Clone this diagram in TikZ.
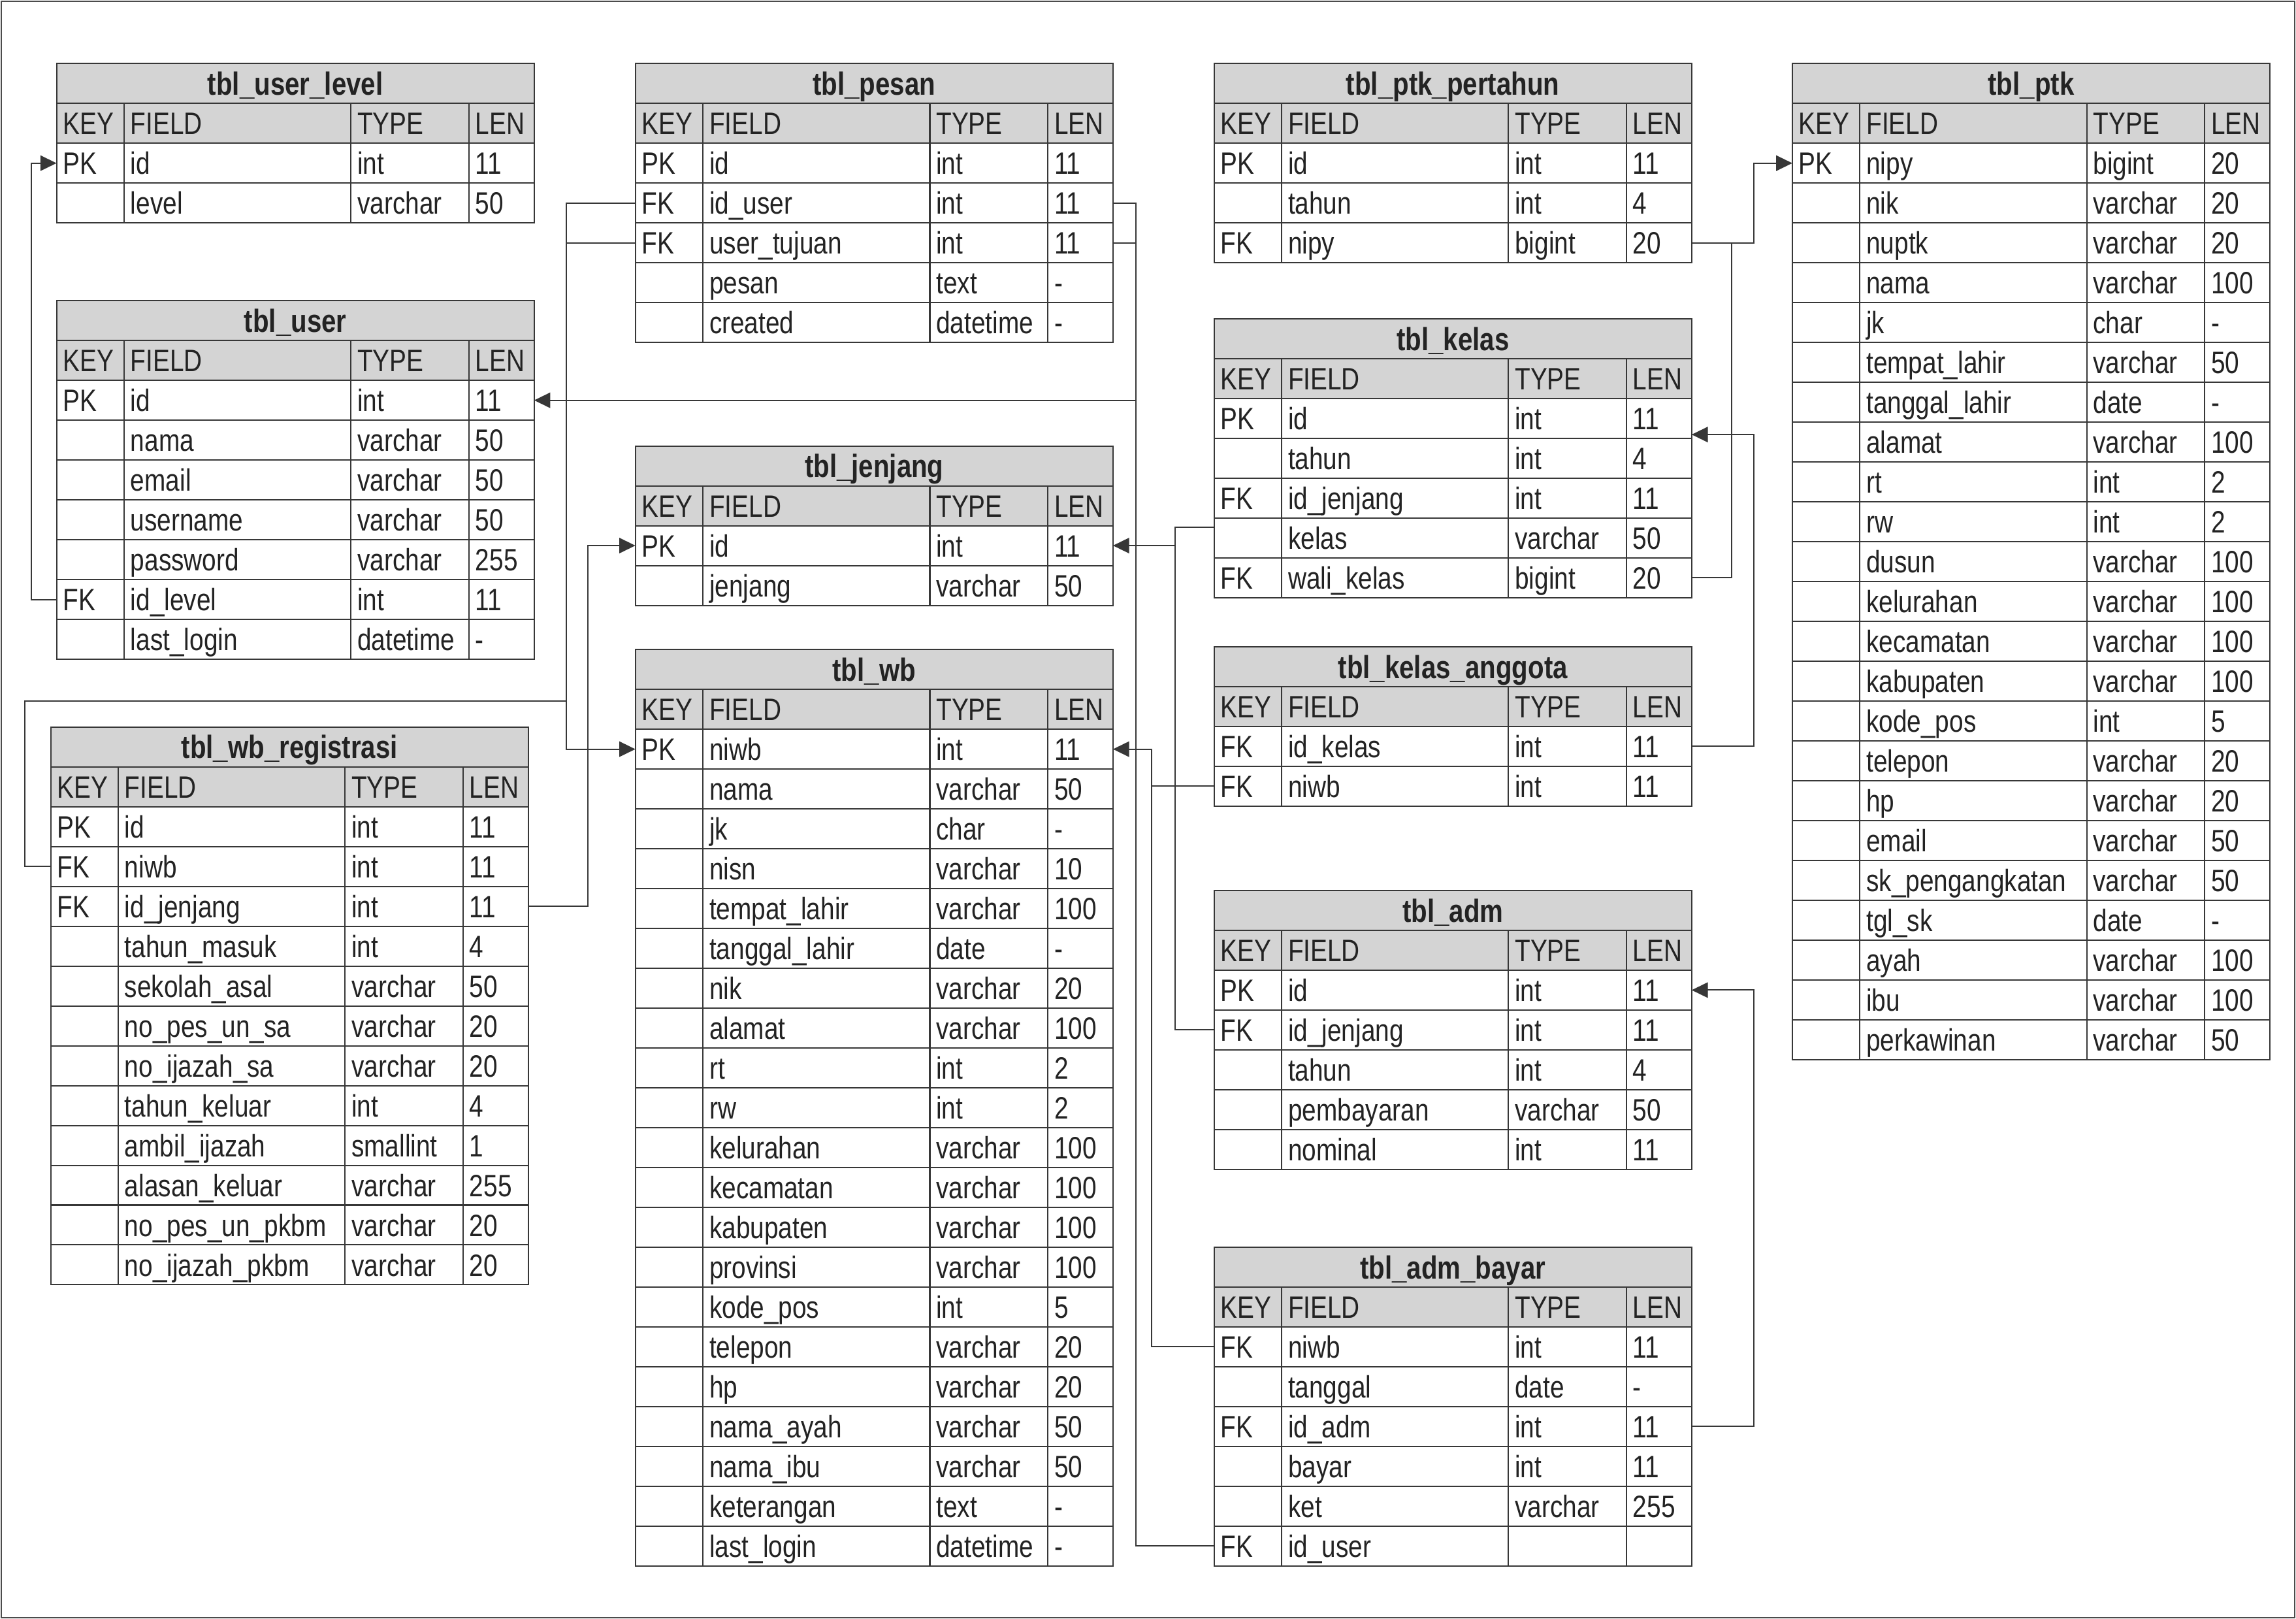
\documentclass[tikz,border=0pt]{standalone}
\usepackage{fontspec}
\setmainfont{Liberation Sans}[FakeStretch=0.82]
\usetikzlibrary{arrows.meta,calc}
\definecolor{lnc}{RGB}{55,55,55}
\definecolor{hdr}{RGB}{212,212,212}
\definecolor{txc}{RGB}{35,35,35}
\definecolor{frm}{RGB}{75,75,75}
\def\tw{326.2}
\def\rh{27.2}
\def\cA{46.2}
\def\cB{201.1}
\def\cC{281.7}
\def\pad{4.4}
\tikzset{
  rowbox/.style={draw=none,inner sep=0pt,outer sep=0pt,minimum width=326.2pt,minimum height=27.2pt},
  ctext/.style={anchor=west,inner sep=0pt,outer sep=0pt,text height=15.2pt,text depth=0pt,text=txc,font=\fontsize{21.1}{21.1}\selectfont},
  ttext/.style={anchor=center,inner sep=0pt,outer sep=0pt,text height=15.8pt,text depth=0pt,text=txc,font=\fontsize{21.9}{21.9}\selectfont\bfseries},
  gridln/.style={draw=lnc,line width=0.9pt},
  conn/.style={draw=lnc,line width=0.9pt},
  tipA/.style={-{Triangle[length=11pt,width=10.5pt]}}
}
\newcommand\dbtable[6]{%
\begin{scope}[shift={(#2,#3)}]
  \fill[hdr] (0,0) rectangle (\tw,{2*\rh});
  \node[rowbox] (#1-title) at ({\tw/2},{0.5*\rh}) {};
  \node[ttext] (#1-tt) at ({\tw/2},{0.5*\rh}) {#4};
  \node[ctext] (#1-hk) at (\pad,{1.5*\rh}) {KEY};
  \node[ctext] (#1-hf) at ({\cA+\pad},{1.5*\rh}) {FIELD};
  \node[ctext] (#1-ht) at ({\cB+\pad},{1.5*\rh}) {TYPE};
  \node[ctext] (#1-hl) at ({\cC+\pad},{1.5*\rh}) {LEN};
  \draw[gridln] (0,\rh) -- (\tw,\rh);
  \foreach \colK/\colF/\colT/\colL [count=\i] in {#6} {
    \node[rowbox] (#1-r\i) at ({\tw/2},{(\i+1.5)*\rh}) {};
    \node[ctext] (#1-k\i) at (\pad,{(\i+1.5)*\rh}) {\colK};
    \node[ctext] (#1-f\i) at ({\cA+\pad},{(\i+1.5)*\rh}) {\colF};
    \node[ctext] (#1-t\i) at ({\cB+\pad},{(\i+1.5)*\rh}) {\colT};
    \node[ctext] (#1-l\i) at ({\cC+\pad},{(\i+1.5)*\rh}) {\colL};
    \draw[gridln] (0,{(\i+1)*\rh}) -- (\tw,{(\i+1)*\rh});
  }
  \foreach \c in {\cA,\cB,\cC} \draw[gridln] (\c,\rh) -- (\c,{(#5+2)*\rh});
  \draw[gridln] (0,0) rectangle (\tw,{(#5+2)*\rh});
\end{scope}}
\begin{document}
\begin{tikzpicture}[x=1pt,y=-1pt]
\useasboundingbox (0,0) rectangle (1568,1105.4);
\fill[white] (0,0) rectangle (1568,1105.4);
\draw[frm,line width=1pt] (1,1) rectangle (1567,1104.4);

\dbtable{ul}{38.6}{43.4}{tbl\_user\_level}{2}{PK/id/int/11, {}/level/varchar/50}
\dbtable{user}{38.6}{205.3}{tbl\_user}{7}{PK/id/int/11, {}/nama/varchar/50, {}/email/varchar/50, {}/username/varchar/50, {}/password/varchar/255, FK/id\_level/int/11, {}/last\_login/datetime/-}
\dbtable{reg}{34.6}{496.4}{tbl\_wb\_registrasi}{12}{PK/id/int/11, FK/niwb/int/11, FK/id\_jenjang/int/11, {}/tahun\_masuk/int/4, {}/sekolah\_asal/varchar/50, {}/no\_pes\_un\_sa/varchar/20, {}/no\_ijazah\_sa/varchar/20, {}/tahun\_keluar/int/4, {}/ambil\_ijazah/smallint/1, {}/alasan\_keluar/varchar/255, {}/no\_pes\_un\_pkbm/varchar/20, {}/no\_ijazah\_pkbm/varchar/20}
\dbtable{pesan}{433.9}{43.4}{tbl\_pesan}{5}{PK/id/int/11, FK/id\_user/int/11, FK/user\_tujuan/int/11, {}/pesan/text/-, {}/created/datetime/-}
\dbtable{jenjang}{433.9}{304.5}{tbl\_jenjang}{2}{PK/id/int/11, {}/jenjang/varchar/50}
\dbtable{wb}{433.9}{443.5}{tbl\_wb}{21}{PK/niwb/int/11, {}/nama/varchar/50, {}/jk/char/-, {}/nisn/varchar/10, {}/tempat\_lahir/varchar/100, {}/tanggal\_lahir/date/-, {}/nik/varchar/20, {}/alamat/varchar/100, {}/rt/int/2, {}/rw/int/2, {}/kelurahan/varchar/100, {}/kecamatan/varchar/100, {}/kabupaten/varchar/100, {}/provinsi/varchar/100, {}/kode\_pos/int/5, {}/telepon/varchar/20, {}/hp/varchar/20, {}/nama\_ayah/varchar/50, {}/nama\_ibu/varchar/50, {}/keterangan/text/-, {}/last\_login/datetime/-}
\dbtable{ptkp}{829.1}{43.4}{tbl\_ptk\_pertahun}{3}{PK/id/int/11, {}/tahun/int/4, FK/nipy/bigint/20}
\dbtable{kelas}{829.1}{217.6}{tbl\_kelas}{5}{PK/id/int/11, {}/tahun/int/4, FK/id\_jenjang/int/11, {}/kelas/varchar/50, FK/wali\_kelas/bigint/20}
\dbtable{ka}{829.1}{441.6}{tbl\_kelas\_anggota}{2}{FK/id\_kelas/int/11, FK/niwb/int/11}
\dbtable{adm}{829.1}{608}{tbl\_adm}{5}{PK/id/int/11, FK/id\_jenjang/int/11, {}/tahun/int/4, {}/pembayaran/varchar/50, {}/nominal/int/11}
\dbtable{bayar}{829.1}{851.5}{tbl\_adm\_bayar}{6}{FK/niwb/int/11, {}/tanggal/date/-, FK/id\_adm/int/11, {}/bayar/int/11, {}/ket/varchar/255, FK/id\_user/{}/{}}
\dbtable{ptk}{1224}{43.4}{tbl\_ptk}{23}{PK/nipy/bigint/20, {}/nik/varchar/20, {}/nuptk/varchar/20, {}/nama/varchar/100, {}/jk/char/-, {}/tempat\_lahir/varchar/50, {}/tanggal\_lahir/date/-, {}/alamat/varchar/100, {}/rt/int/2, {}/rw/int/2, {}/dusun/varchar/100, {}/kelurahan/varchar/100, {}/kecamatan/varchar/100, {}/kabupaten/varchar/100, {}/kode\_pos/int/5, {}/telepon/varchar/20, {}/hp/varchar/20, {}/email/varchar/50, {}/sk\_pengangkatan/varchar/50, {}/tgl\_sk/date/-, {}/ayah/varchar/100, {}/ibu/varchar/100, {}/perkawinan/varchar/50}

% helper coordinates
\coordinate (busU) at ([xshift=15.5pt]pesan-r2.east);
\coordinate (busW) at ([xshift=-47.1pt]pesan-r2.west);
\coordinate (regBend) at ([xshift=-17.5pt,yshift=17.9pt]reg-title.north west);
\coordinate (kj) at ([yshift=-19.8pt]kelas-r3.west);
\coordinate (busJ) at ([xshift=-26.6pt]kj);
\coordinate (busN) at ([xshift=-42.6pt]ka-r2.west);
\coordinate (kid) at ([yshift=-11.1pt]kelas-r1.east);
\coordinate (busP) at ([xshift=27.2pt]ptkp-r3.east);

% user.id_level -> user_level.id
\draw[conn,tipA] (user-r6.west) -- ++(-17.3,0) |- (ul-r1.west);
% pesan (right) and adm_bayar.id_user -> user.id
\draw[conn] (pesan-r2.east) -- (busU) |- (bayar-r6.west);
\draw[conn] (pesan-r3.east) -- (busU |- pesan-r3.east);
\draw[conn,tipA] (busU |- user-r1.east) -- (user-r1.east);
% pesan (left) and wb_registrasi.niwb -> wb.niwb
\draw[conn,tipA] (pesan-r2.west) -- (busW) |- (wb-r1.west);
\draw[conn] (pesan-r3.west) -- (busW |- pesan-r3.west);
\draw[conn] (reg-r2.west) -| (regBend) -- (busW |- regBend);
% wb_registrasi.id_jenjang -> jenjang.id
\draw[conn,tipA] (reg-r3.east) -- ++(40.5,0) |- (jenjang-r1.west);
% kelas.id_jenjang, adm.id_jenjang -> jenjang.id
\draw[conn] (kj) -- (busJ) |- (adm-r2.west);
\draw[conn,tipA] (busJ |- jenjang-r1.east) -- (jenjang-r1.east);
% kelas_anggota.niwb, adm_bayar.niwb -> wb.niwb
\draw[conn] (ka-r2.west) -- (busN);
\draw[conn,tipA] (bayar-r1.west) -| (busN) |- (wb-r1.east);
% kelas_anggota.id_kelas -> kelas.id
\draw[conn,tipA] (ka-r1.east) -- ++(42.5,0) |- (kid);
% ptk_pertahun.nipy, kelas.wali_kelas -> ptk.nipy
\draw[conn,tipA] (ptkp-r3.east) -- ++(42.3,0) |- (ptk-r1.west);
\draw[conn] (kelas-r5.east) -| (busP);
% adm_bayar.id_adm -> adm.id
\draw[conn,tipA] (bayar-r3.east) -- ++(42.5,0) |- (adm-r1.east);
\end{tikzpicture}
\end{document}
